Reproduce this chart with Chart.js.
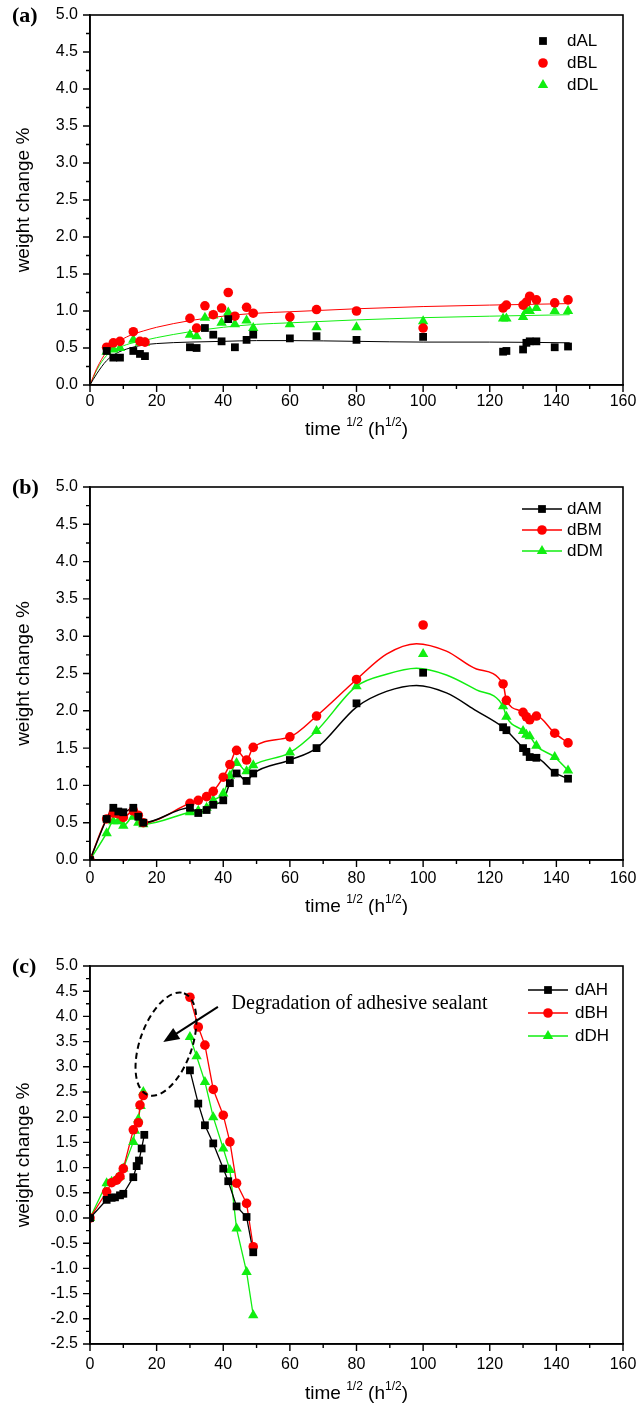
<!DOCTYPE html>
<html>
<head>
<meta charset="utf-8">
<script src="https://cdn.jsdelivr.net/npm/chart.js@4.4.0/dist/chart.umd.min.js"></script>
<style>
  body { margin: 0; background: #fff; width: 638px; height: 1408px; overflow: hidden; }
  .panel { position: absolute; left: 0; width: 638px; }
</style>
</head>
<body>
<div class="panel" style="top:0px;height:440px"><canvas id="chartA"></canvas></div>
<div class="panel" style="top:455px;height:460px"><canvas id="chartB"></canvas></div>
<div class="panel" style="top:935px;height:473px"><canvas id="chartC"></canvas></div>
<script>
// ---- data (time^1/2 in h^1/2, weight change in %) ----
const xTickLabels = [0, 20, 40, 60, 80, 100, 120, 140, 160];
const yTickLabelsAB = [0, 0.5, 1, 1.5, 2, 2.5, 3, 3.5, 4, 4.5, 5];
const yTickLabelsC = [-2.5, -2, -1.5, -1, -0.5, 0, 0.5, 1, 1.5, 2, 2.5, 3, 3.5, 4, 4.5, 5];

// (a) low
const tA = [5, 7, 9, 13, 15, 16.5, 30, 32, 34.5, 37, 39.5, 41.5, 43.5, 47, 49, 60, 68, 80, 100, 124, 125, 130, 131, 132, 134, 139.5, 143.5];
const dAL = [0.46, 0.37, 0.37, 0.46, 0.42, 0.39, 0.51, 0.50, 0.77, 0.68, 0.59, 0.89, 0.51, 0.61, 0.68, 0.63, 0.66, 0.61, 0.65, 0.45, 0.46, 0.48, 0.57, 0.59, 0.59, 0.51, 0.52];
const dBL = [0.51, 0.57, 0.59, 0.72, 0.59, 0.58, 0.90, 0.77, 1.07, 0.95, 1.04, 1.25, 0.93, 1.05, 0.97, 0.92, 1.02, 1.00, 0.77, 1.04, 1.08, 1.08, 1.12, 1.20, 1.15, 1.11, 1.15];
const dDL = [0.45, 0.48, 0.50, 0.61, 0.57, 0.57, 0.68, 0.66, 0.91, 0.94, 0.84, 0.98, 0.82, 0.87, 0.77, 0.82, 0.78, 0.78, 0.86, 0.90, 0.90, 0.92, 1.00, 1.00, 1.04, 1.00, 1.00];
// fitted curves of (a)
const tFitA = [0, 2, 5, 8, 12, 16, 20, 30, 40, 50, 60, 80, 100, 120, 144];
const fitAL = [0, 0.15, 0.33, 0.43, 0.50, 0.54, 0.56, 0.58, 0.59, 0.60, 0.60, 0.59, 0.58, 0.58, 0.57];
const fitBL = [0, 0.22, 0.45, 0.57, 0.67, 0.73, 0.78, 0.87, 0.93, 0.97, 0.99, 1.03, 1.06, 1.08, 1.10];
const fitDL = [0, 0.20, 0.40, 0.49, 0.56, 0.60, 0.64, 0.72, 0.78, 0.82, 0.84, 0.88, 0.91, 0.93, 0.95];

// (b) medium
const tB = [0, 5, 7, 8.5, 10, 13, 14.5, 16, 30, 32.5, 35, 37, 40, 42, 44, 47, 49, 60, 68, 80, 100, 124, 125, 130, 131, 132, 134, 139.5, 143.5];
const dAM = [0, 0.55, 0.70, 0.65, 0.64, 0.70, 0.58, 0.50, 0.70, 0.63, 0.67, 0.74, 0.80, 1.03, 1.16, 1.06, 1.16, 1.34, 1.50, 2.10, 2.51, 1.78, 1.74, 1.50, 1.45, 1.38, 1.37, 1.17, 1.09];
const dBM = [0, 0.55, 0.63, 0.62, 0.57, 0.66, 0.60, 0.50, 0.76, 0.80, 0.85, 0.92, 1.11, 1.28, 1.47, 1.34, 1.51, 1.65, 1.93, 2.42, 3.15, 2.36, 2.14, 1.98, 1.92, 1.88, 1.93, 1.70, 1.57];
const dDM = [0, 0.36, 0.52, 0.52, 0.46, 0.58, 0.50, 0.48, 0.64, 0.66, 0.70, 0.80, 0.89, 1.13, 1.30, 1.19, 1.27, 1.44, 1.73, 2.33, 2.76, 2.06, 1.92, 1.73, 1.68, 1.66, 1.53, 1.38, 1.20];
// smoothed lines of (b), which run under the x=100 points
const tLineB = [0, 5, 7, 8.5, 10, 13, 14.5, 16, 30, 32.5, 35, 37, 40, 42, 44, 47, 49, 60, 68, 80, 89, 98, 107, 116, 124, 125, 130, 131, 132, 134, 139.5, 143.5];
const lineAM = [0, 0.55, 0.70, 0.65, 0.64, 0.70, 0.58, 0.50, 0.70, 0.63, 0.67, 0.74, 0.80, 1.03, 1.16, 1.06, 1.16, 1.34, 1.50, 2.05, 2.26, 2.34, 2.24, 2.00, 1.78, 1.74, 1.50, 1.45, 1.38, 1.37, 1.17, 1.09];
const lineBM = [0, 0.55, 0.63, 0.62, 0.57, 0.66, 0.60, 0.50, 0.76, 0.80, 0.85, 0.92, 1.11, 1.28, 1.47, 1.34, 1.51, 1.65, 1.93, 2.42, 2.76, 2.90, 2.80, 2.56, 2.36, 2.14, 1.98, 1.92, 1.88, 1.93, 1.70, 1.57];
const lineDM = [0, 0.36, 0.52, 0.52, 0.46, 0.58, 0.50, 0.48, 0.64, 0.66, 0.70, 0.80, 0.89, 1.13, 1.30, 1.19, 1.27, 1.44, 1.73, 2.33, 2.49, 2.57, 2.48, 2.28, 2.06, 1.92, 1.73, 1.68, 1.66, 1.53, 1.38, 1.20];

// (c) high (null = break in the line)
const tAH = [0, 5, 6.5, 7.5, 9, 10, 13, 14, 14.7, 15.5, 16.3, 23, 30, 32.5, 34.5, 37, 40, 41.5, 44, 47, 49];
const dAH = [0, 0.36, 0.40, 0.41, 0.45, 0.48, 0.81, 1.03, 1.14, 1.38, 1.65, null, 2.93, 2.27, 1.84, 1.48, 0.98, 0.73, 0.23, 0.02, -0.68];
const tBH = [0, 5, 6.5, 8, 9, 10, 13, 14.5, 15, 16, 23, 30, 32.5, 34.5, 37, 40, 42, 44, 47, 49];
const dBH = [0, 0.52, 0.70, 0.75, 0.82, 0.98, 1.75, 1.89, 2.24, 2.43, null, 4.38, 3.79, 3.43, 2.55, 2.04, 1.51, 0.69, 0.29, -0.57];
const tDH = [0, 5, 6.5, 8, 9, 10, 13, 13.5, 14.5, 15.2, 16, 23, 30, 32, 34.5, 37, 40, 42, 44, 47, 49];
const dDH = [0, 0.69, 0.72, 0.78, 0.83, 0.98, 1.51, 1.73, 1.96, 2.22, 2.50, null, 3.59, 3.21, 2.70, 2.00, 1.38, 0.95, -0.21, -1.07, -1.93];

const BLACK = '#000000', RED = '#ff0000', GREEN = '#11ee11';
const FONT = '"Liberation Sans", Arial, sans-serif';

function pts(xs, ys) {
  return xs.map((x, i) => ({ x: x, y: ys[i] }));
}

// a minor tick half way between each labelled one
function buildTicks(labels) {
  const out = [];
  labels.forEach((v, i) => {
    out.push({ value: v });
    if (i < labels.length - 1) out.push({ value: (v + labels[i + 1]) / 2 });
  });
  return out;
}

function markers(label, data, color, style, r) {
  return {
    label: label, data: data, showLine: false,
    pointStyle: style, pointRadius: r, pointHoverRadius: r,
    backgroundColor: color, borderColor: color, borderWidth: 0
  };
}

function curve(data, color, width, tension) {
  return {
    label: '', data: data, showLine: true, spanGaps: false,
    pointRadius: 0, pointHoverRadius: 0,
    borderColor: color, borderWidth: width, tension: tension,
    cubicInterpolationMode: tension ? 'monotone' : 'default', fill: false
  };
}

function drawMarker(ctx, style, color, x, y, r) {
  ctx.fillStyle = color;
  ctx.beginPath();
  if (style === 'rect') {
    const h = r * Math.SQRT1_2;
    ctx.rect(x - h, y - h, 2 * h, 2 * h);
  } else if (style === 'circle') {
    ctx.arc(x, y, r, 0, Math.PI * 2);
  } else {
    ctx.moveTo(x, y - r);
    ctx.lineTo(x + r * Math.sqrt(3) / 2, y + r / 2);
    ctx.lineTo(x - r * Math.sqrt(3) / 2, y + r / 2);
    ctx.closePath();
  }
  ctx.fill();
}

const frameAndText = {
  id: 'frameAndText',
  afterDraw(chart, args, opts) {
    const ctx = chart.ctx, a = chart.chartArea;
    const sx = chart.scales.x, sy = chart.scales.y;
    ctx.save();
    ctx.strokeStyle = '#000';
    ctx.lineWidth = 1.6;
    ctx.strokeRect(a.left, a.top, a.right - a.left, a.bottom - a.top);

    // outward ticks, long on labelled values, plus their labels
    ctx.lineWidth = 1.4;
    ctx.fillStyle = '#000';
    ctx.font = '16px ' + FONT;
    ctx.beginPath();
    ctx.textAlign = 'center';
    ctx.textBaseline = 'middle';
    sx.ticks.forEach(t => {
      const px = sx.getPixelForValue(t.value);
      const major = xTickLabels.includes(t.value);
      ctx.moveTo(px, a.bottom);
      ctx.lineTo(px, a.bottom + (major ? 7 : 4));
      if (major) ctx.fillText(String(t.value), px, a.bottom + opts.xLabelGap);
    });
    ctx.textAlign = 'right';
    sy.ticks.forEach(t => {
      const py = sy.getPixelForValue(t.value);
      const major = opts.yLabels.includes(t.value);
      ctx.moveTo(a.left, py);
      ctx.lineTo(a.left - (major ? 7 : 4), py);
      if (major) ctx.fillText(t.value.toFixed(1), a.left - 12, py);
    });
    ctx.stroke();

    ctx.textAlign = 'left';
    ctx.font = 'bold 22px "Liberation Serif", serif';
    ctx.fillText(opts.letter, 12, a.top + 1);

    // y title
    ctx.save();
    ctx.translate(24, (a.top + a.bottom) / 2);
    ctx.rotate(-Math.PI / 2);
    ctx.textAlign = 'center';
    ctx.font = '19px ' + FONT;
    ctx.fillText('weight change %', 0, 0);
    ctx.restore();

    // x title with superscripts
    const parts = [['time ', 19, 0], ['1/2', 12, -7], [' (h', 19, 0], ['1/2', 12, -7], [')', 19, 0]];
    let total = 0;
    parts.forEach(p => { ctx.font = p[1] + 'px ' + FONT; total += ctx.measureText(p[0]).width; });
    let x = (a.left + a.right) / 2 - total / 2;
    const y = a.bottom + opts.xTitleGap;
    parts.forEach(p => {
      ctx.font = p[1] + 'px ' + FONT;
      ctx.fillText(p[0], x, y + p[2]);
      x += ctx.measureText(p[0]).width;
    });

    // legend
    const lg = opts.legend;
    ctx.font = '17px ' + FONT;
    lg.items.forEach((idx, i) => {
      const ds = chart.data.datasets[idx];
      const ly = a.top + lg.top + i * lg.gap;
      if (lg.lines) {
        ctx.strokeStyle = ds.borderColor;
        ctx.lineWidth = 1.3;
        ctx.beginPath();
        ctx.moveTo(lg.x - 20, ly);
        ctx.lineTo(lg.x + 20, ly);
        ctx.stroke();
      }
      drawMarker(ctx, ds.pointStyle, ds.backgroundColor, lg.x, ly, ds.pointRadius);
      ctx.fillStyle = '#000';
      ctx.fillText(ds.label, lg.textX, ly);
    });

    // annotation
    const n = opts.note;
    if (n) {
      ctx.strokeStyle = '#000';
      ctx.lineWidth = 2;
      ctx.setLineDash([6, 4]);
      ctx.beginPath();
      ctx.ellipse(sx.getPixelForValue(n.ellipse[0]), sy.getPixelForValue(n.ellipse[1]), n.ellipse[2], n.ellipse[3], n.ellipse[4], 0, Math.PI * 2);
      ctx.stroke();
      ctx.setLineDash([]);
      const x0 = sx.getPixelForValue(n.arrow[0]), y0 = sy.getPixelForValue(n.arrow[1]);
      const x1 = sx.getPixelForValue(n.arrow[2]), y1 = sy.getPixelForValue(n.arrow[3]);
      const ang = Math.atan2(y1 - y0, x1 - x0);
      ctx.lineWidth = 2;
      ctx.beginPath();
      ctx.moveTo(x0, y0);
      ctx.lineTo(x1 - 10 * Math.cos(ang), y1 - 10 * Math.sin(ang));
      ctx.stroke();
      ctx.fillStyle = '#000';
      ctx.beginPath();
      ctx.moveTo(x1, y1);
      ctx.lineTo(x1 - 16 * Math.cos(ang) + 6.5 * Math.sin(ang), y1 - 16 * Math.sin(ang) - 6.5 * Math.cos(ang));
      ctx.lineTo(x1 - 16 * Math.cos(ang) - 6.5 * Math.sin(ang), y1 - 16 * Math.sin(ang) + 6.5 * Math.cos(ang));
      ctx.closePath();
      ctx.fill();
      ctx.font = '20px "Liberation Serif", serif';
      ctx.textAlign = 'left';
      ctx.fillText(n.text, sx.getPixelForValue(n.textAt[0]), sy.getPixelForValue(n.textAt[1]));
    }
    ctx.restore();
  }
};

function makePanel(id, datasets, yMin, yMax, yLabels, plotTop, xAxisH, extra) {
  extra.yLabels = yLabels;
  return new Chart(document.getElementById(id), {
    type: 'scatter',
    data: { datasets: datasets },
    plugins: [frameAndText],
    options: {
      responsive: true,
      maintainAspectRatio: false,
      animation: false,
      layout: { padding: { top: plotTop, right: 15, left: 0, bottom: 0 } },
      plugins: {
        legend: { display: false },
        tooltip: { enabled: false },
        frameAndText: extra
      },
      scales: {
        x: {
          type: 'linear', min: 0, max: 160,
          afterFit: s => { s.height = xAxisH; },
          afterBuildTicks: s => { s.ticks = buildTicks(xTickLabels); },
          grid: { drawOnChartArea: false, drawTicks: false },
          border: { color: '#000', width: 1.6 },
          ticks: { display: false, autoSkip: false }
        },
        y: {
          type: 'linear', min: yMin, max: yMax,
          afterFit: s => { s.width = 90; },
          afterBuildTicks: s => { s.ticks = buildTicks(yLabels); },
          grid: { drawOnChartArea: false, drawTicks: false },
          border: { color: '#000', width: 1.6 },
          ticks: { display: false, autoSkip: false }
        }
      }
    }
  });
}

makePanel('chartA', [
  markers('dAL', pts(tA, dAL), BLACK, 'rect', 5.5),
  markers('dBL', pts(tA, dBL), RED, 'circle', 4.8),
  markers('dDL', pts(tA, dDL), GREEN, 'triangle', 6),
  curve(pts(tFitA, fitAL), BLACK, 1, 0.4),
  curve(pts(tFitA, fitBL), RED, 1, 0.4),
  curve(pts(tFitA, fitDL), GREEN, 1, 0.4)
], 0, 5, yTickLabelsAB, 15, 55, {
  letter: '(a)', xTitleGap: 45, xLabelGap: 17,
  legend: { items: [0, 1, 2], x: 543, textX: 567, top: 26, gap: 22, lines: false }
});

makePanel('chartB', [
  markers('dAM', pts(tB, dAM), BLACK, 'rect', 5.5),
  markers('dBM', pts(tB, dBM), RED, 'circle', 4.8),
  markers('dDM', pts(tB, dDM), GREEN, 'triangle', 6),
  curve(pts(tLineB, lineAM), BLACK, 1.5, 0.3),
  curve(pts(tLineB, lineBM), RED, 1.5, 0.3),
  curve(pts(tLineB, lineDM), GREEN, 1.5, 0.3)
], 0, 5, yTickLabelsAB, 32, 55, {
  letter: '(b)', xTitleGap: 47, xLabelGap: 19,
  legend: { items: [0, 1, 2], x: 542, textX: 567, top: 22, gap: 21, lines: true }
});

makePanel('chartC', [
  markers('dAH', pts(tAH, dAH), BLACK, 'rect', 5.5),
  markers('dBH', pts(tBH, dBH), RED, 'circle', 4.8),
  markers('dDH', pts(tDH, dDH), GREEN, 'triangle', 6),
  curve(pts(tAH, dAH), BLACK, 1.3, 0),
  curve(pts(tBH, dBH), RED, 1.3, 0),
  curve(pts(tDH, dDH), GREEN, 1.3, 0)
], -2.5, 5, yTickLabelsC, 31, 64, {
  letter: '(c)', xTitleGap: 50, xLabelGap: 21,
  legend: { items: [0, 1, 2], x: 548, textX: 575, top: 24, gap: 23, lines: true },
  note: {
    text: 'Degradation of adhesive sealant',
    textAt: [42.5, 4.26],
    ellipse: [22.8, 3.45, 54, 26, -1.23],
    arrow: [38.4, 4.19, 22, 3.49]
  }
});
</script>
</body>
</html>
